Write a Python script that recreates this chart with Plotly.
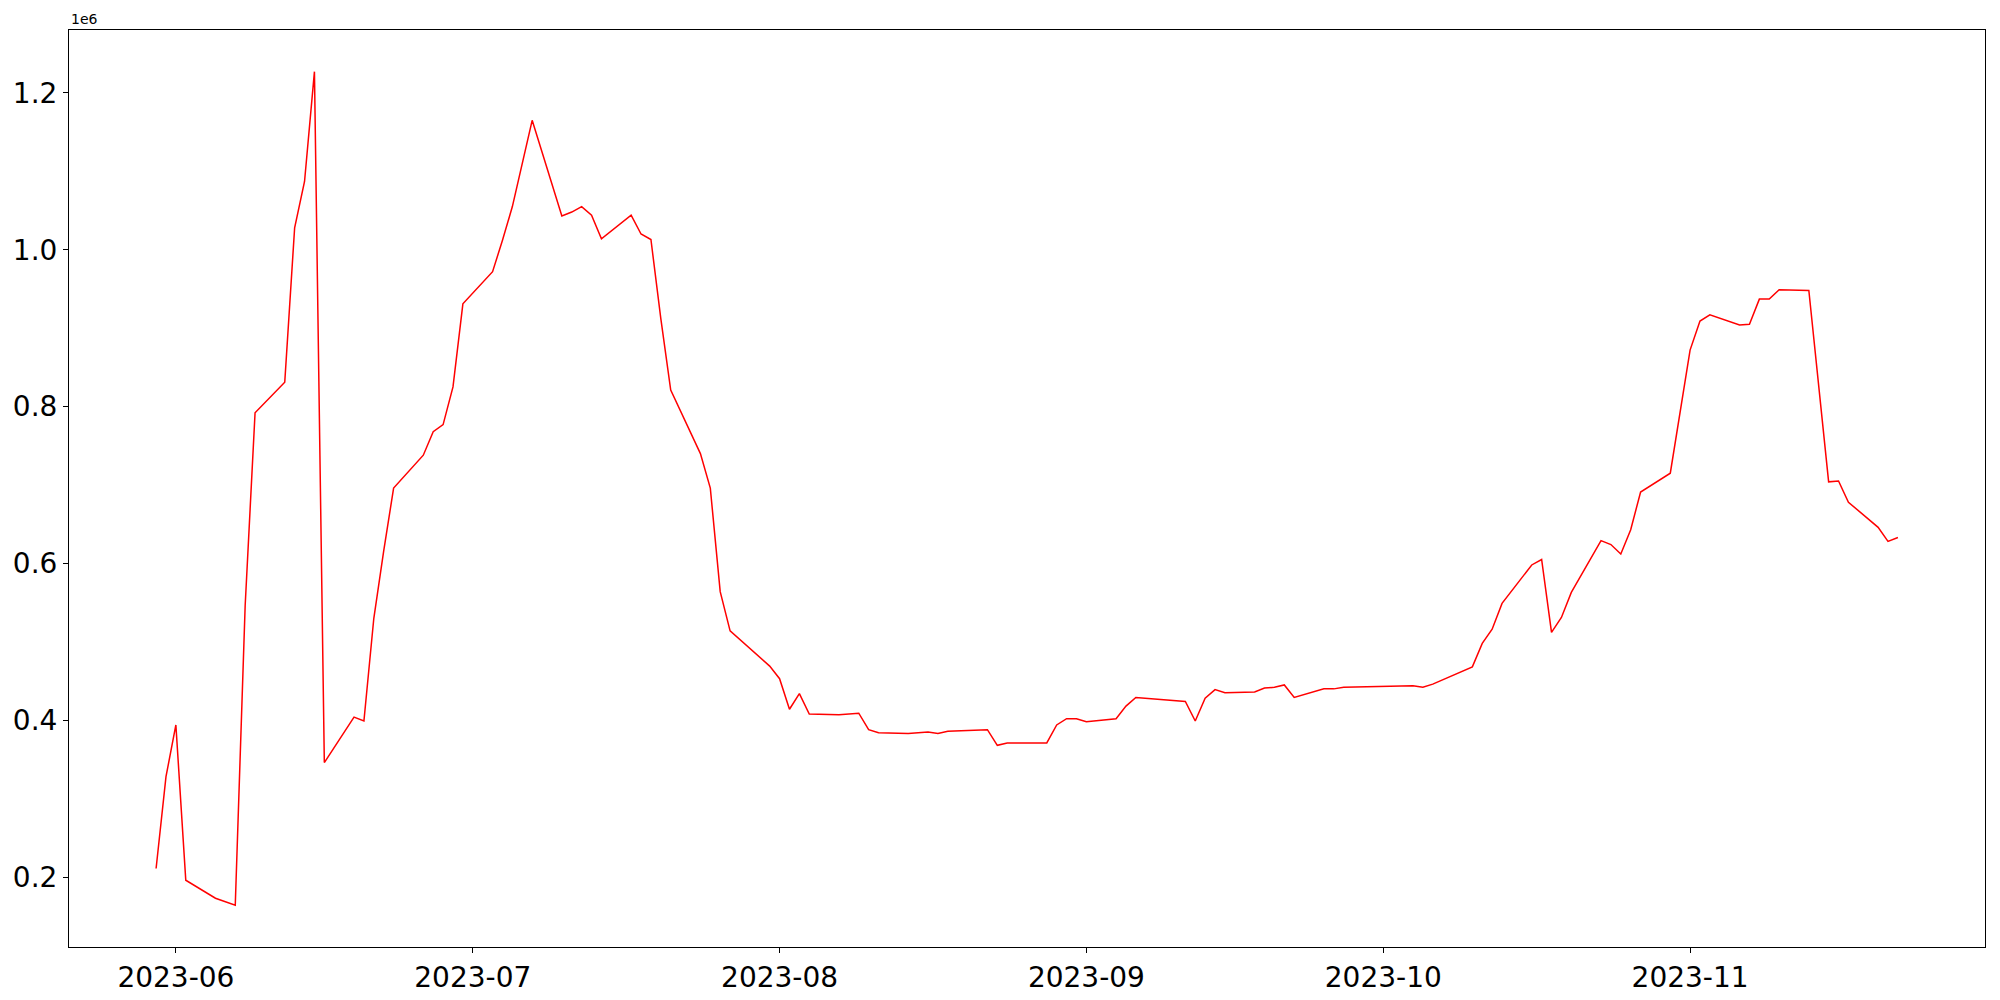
import pandas as pd
import plotly.graph_objects as go

dates = [
    "2023-05-30", "2023-05-31", "2023-06-01", "2023-06-02", "2023-06-05", "2023-06-07",
    "2023-06-08", "2023-06-09", "2023-06-12", "2023-06-13", "2023-06-14", "2023-06-15",
    "2023-06-16", "2023-06-19", "2023-06-20", "2023-06-21", "2023-06-22", "2023-06-23",
    "2023-06-26", "2023-06-27", "2023-06-28", "2023-06-29", "2023-06-30", "2023-07-03",
    "2023-07-04", "2023-07-05", "2023-07-07", "2023-07-10", "2023-07-11", "2023-07-12",
    "2023-07-13", "2023-07-14", "2023-07-17", "2023-07-18", "2023-07-19", "2023-07-20",
    "2023-07-21", "2023-07-24", "2023-07-25", "2023-07-26", "2023-07-27", "2023-07-28",
    "2023-07-31", "2023-08-01", "2023-08-02", "2023-08-03", "2023-08-04", "2023-08-07",
    "2023-08-09", "2023-08-10", "2023-08-11", "2023-08-14", "2023-08-16", "2023-08-17",
    "2023-08-18", "2023-08-22", "2023-08-23", "2023-08-24", "2023-08-28", "2023-08-29",
    "2023-08-30", "2023-08-31", "2023-09-01", "2023-09-04", "2023-09-05", "2023-09-06",
    "2023-09-07", "2023-09-11", "2023-09-12", "2023-09-13", "2023-09-14", "2023-09-15",
    "2023-09-18", "2023-09-19", "2023-09-20", "2023-09-21", "2023-09-22", "2023-09-25",
    "2023-09-26", "2023-09-27", "2023-10-04", "2023-10-05", "2023-10-06", "2023-10-10",
    "2023-10-11", "2023-10-12", "2023-10-13", "2023-10-16", "2023-10-17", "2023-10-18",
    "2023-10-19", "2023-10-20", "2023-10-23", "2023-10-24", "2023-10-25", "2023-10-26",
    "2023-10-27", "2023-10-30", "2023-11-01", "2023-11-02", "2023-11-03", "2023-11-06",
    "2023-11-07", "2023-11-08", "2023-11-09", "2023-11-10", "2023-11-13", "2023-11-15",
    "2023-11-16", "2023-11-17", "2023-11-20", "2023-11-21", "2023-11-22",
]

values = [
    211000, 328000, 394000, 196000, 173000, 164000,
    546000, 792000, 831000, 1028000, 1087000, 1227000,
    346000, 404000, 399000, 530000, 616000, 696000,
    738000, 768000, 777000, 825000, 931000, 972000,
    1012000, 1055000, 1165000, 1043000, 1048000, 1055000,
    1044000, 1014000, 1044000, 1020000, 1013000, 912000,
    821000, 740000, 696000, 564000, 514000, 503000,
    469000, 453000, 414000, 434000, 408000, 407000,
    409000, 388000, 384000, 383000, 385000, 383000,
    386000, 388000, 368000, 371000, 371000, 394000,
    402000, 402000, 398000, 402000, 418000, 429000,
    428000, 424000, 399000, 428000, 439000, 435000,
    436000, 441000, 442000, 445000, 429000, 440000,
    440000, 442000, 444000, 442000, 446000, 468000,
    498000, 516000, 549000, 598000, 605000, 512000,
    531000, 563000, 629000, 624000, 612000, 643000,
    691000, 715000, 872000, 909000, 917000, 904000,
    905000, 937000, 937000, 949000, 948000, 704000,
    705000, 678000, 646000, 628000, 633000,
]

x_ticks = ["2023-06-01", "2023-07-01", "2023-08-01", "2023-09-01", "2023-10-01", "2023-11-01"]
x_tick_labels = ["2023-06", "2023-07", "2023-08", "2023-09", "2023-10", "2023-11"]
y_ticks = [200000, 400000, 600000, 800000, 1000000, 1200000]
y_tick_labels = ["0.2", "0.4", "0.6", "0.8", "1.0", "1.2"]

df = pd.DataFrame({"date": pd.to_datetime(dates), "value": values})

# matplotlib-style 5% margins
t0, t1 = df["date"].min(), df["date"].max()
xpad = (t1 - t0) * 0.05
ymin, ymax = df["value"].min(), df["value"].max()
ypad = (ymax - ymin) * 0.05

fig = go.Figure(go.Scatter(x=df["date"], y=df["value"], mode="lines",
                           line=dict(color="red", width=1.5)))

axis_style = dict(showline=True, mirror=True, linecolor="black", linewidth=1.1,
                  ticks="outside", ticklen=5, tickwidth=1.1, tickcolor="black",
                  showgrid=False, zeroline=False, automargin=False,
                  tickfont=dict(family="DejaVu Sans", size=28, color="black"))

fig.update_xaxes(range=[t0 - xpad, t1 + xpad], tickmode="array",
                 tickvals=x_ticks, ticktext=x_tick_labels, **axis_style)
fig.update_yaxes(range=[ymin - ypad, ymax + ypad], tickmode="array",
                 tickvals=y_ticks, ticktext=y_tick_labels, **axis_style)

fig.add_annotation(text="1e6", xref="paper", yref="paper", x=0, y=1,
                   xanchor="left", yanchor="bottom", showarrow=False, yshift=1,
                   font=dict(family="DejaVu Sans", size=14, color="black"))

fig.update_layout(width=2000, height=1000, plot_bgcolor="white", paper_bgcolor="white",
                  margin=dict(l=69, r=15, t=30, b=53), showlegend=False)

# drop the default 8px body margin so the figure sits at the page origin
fig.write_html("out.html", config={"displayModeBar": False},
               post_script="document.body.style.margin='0';")
